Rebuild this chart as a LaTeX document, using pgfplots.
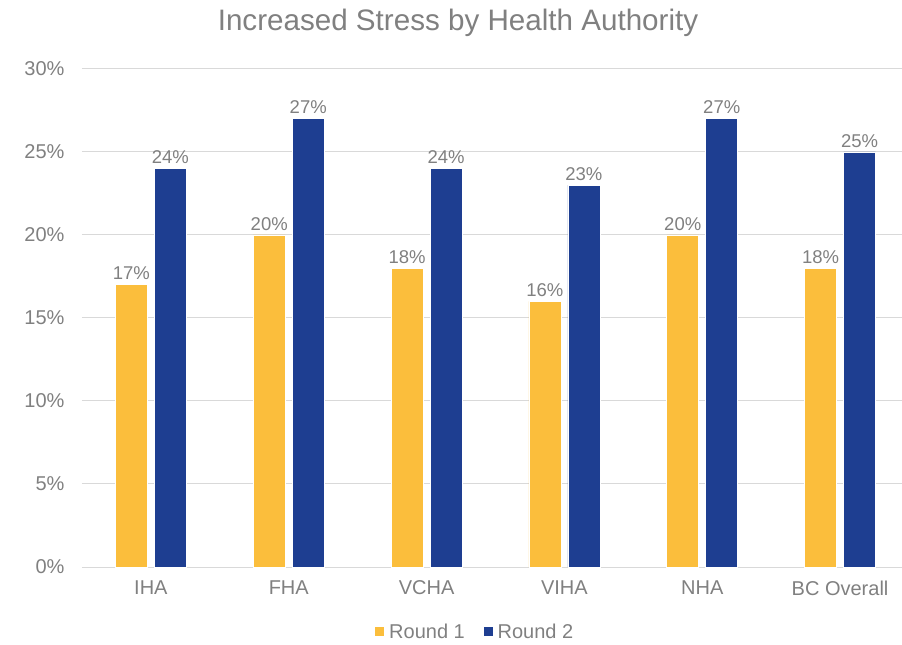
\documentclass[border=0pt]{standalone}
\usepackage{fontspec}
\setmainfont{Liberation Sans}
\usepackage{pgfplots}
\pgfplotsset{compat=1.18}
\definecolor{roundone}{RGB}{251,190,60}
\definecolor{roundtwo}{RGB}{30,62,145}
\definecolor{txtgray}{RGB}{128,128,128}
\definecolor{gridgray}{RGB}{217,217,217}

\begin{document}
\begin{tikzpicture}
\begin{axis}[
    at={(0pt,0pt)}, anchor=south west,
    scale only axis,
    width=827pt, height=498pt,
    ybar=7pt, bar width=32pt,
    xmin=-0.5, xmax=5.5,
    ymin=0, ymax=30,
    xtick=data,
    xticklabels={IHA,FHA,VCHA,VIHA,NHA,BC Overall},
    ytick={0,5,...,30},
    yticklabel={\pgfmathprintnumber{\tick}\%},
    /pgf/number format/assume math mode=true,
    major tick length=0pt,
    axis line style={draw=none},
    ymajorgrids, grid style={gridgray, line width=1pt},
    tick label style={font=\fontsize{20}{22}\selectfont, text=txtgray},
    yticklabel style={xshift=-14pt},
    xticklabel style={yshift=-10pt},
    nodes near coords={\pgfmathprintnumber{\pgfplotspointmeta}\%},
    nodes near coords style={font=\fontsize{18.5}{20}\selectfont, text=txtgray, yshift=1pt},
    legend columns=2,
    legend style={at={(0.475,-0.13)}, anchor=center, draw=none, fill=none,
        font=\fontsize{20}{22}\selectfont, text=txtgray,
        /tikz/every odd column/.append style={column sep=2pt},
        /tikz/every even column/.append style={column sep=16pt}},
    legend image code/.code={\fill[#1] (0pt,-5pt) rectangle (10pt,5pt);},
  ]
  \addplot[fill=roundone, draw=white, line width=0.8pt] coordinates {
    (0,17) (1,20) (2,18) (3,16) (4,20) (5,18)
  };
  \addlegendentry{Round 1}
  \addplot[fill=roundtwo, draw=white, line width=0.8pt] coordinates {
    (0,24) (1,27) (2,24) (3,23) (4,27) (5,25)
  };
  \addlegendentry{Round 2}
\end{axis}
\node[text=txtgray, font=\fontsize{29.6}{32}\selectfont] at (376pt,544pt) {Increased Stress by Health Authority};
\pgfresetboundingbox
\path (-82pt,-78pt) rectangle (820pt,567pt);
\end{tikzpicture}
\end{document}
